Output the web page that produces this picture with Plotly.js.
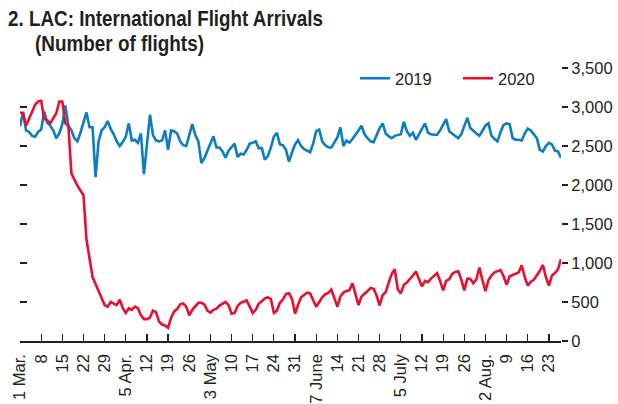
<!DOCTYPE html>
<html>
<head>
<meta charset="utf-8">
<script src="https://cdn.plot.ly/plotly-3.0.1.min.js"></script>
<style>
  html, body { margin: 0; padding: 0; background: #ffffff; }
  #chart { width: 618px; height: 404px; }
</style>
</head>
<body>
<div id="chart"></div>
<script>
// ---- Data (daily, 1 Mar to 27 Aug; 2019 aligned to the same calendar day) ----
const startDate = '2020-03-01';
const dayCount = 180;

const arrivals2019 = [
  2750,2940,2700,2680,2630,2620,2680,2710,2940,2800,
  2760,2700,2600,2660,2780,3020,2760,2700,2600,2560,
  2670,2800,2930,2740,2740,2100,2560,2700,2740,2820,
  2720,2650,2560,2500,2550,2620,2790,2570,2580,2540,
  2660,2140,2560,2900,2640,2570,2560,2570,2700,2450,
  2700,2690,2660,2560,2510,2500,2640,2780,2640,2560,
  2280,2340,2440,2540,2625,2480,2480,2430,2350,2440,
  2490,2530,2360,2400,2390,2450,2530,2540,2560,2470,
  2475,2325,2370,2480,2620,2670,2520,2510,2450,2300,
  2420,2520,2575,2500,2460,2440,2420,2530,2690,2710,
  2560,2510,2485,2480,2540,2610,2740,2500,2570,2545,
  2590,2640,2700,2760,2650,2600,2560,2550,2640,2730,
  2790,2660,2625,2600,2630,2645,2650,2810,2690,2630,
  2670,2580,2650,2730,2790,2670,2650,2645,2645,2700,
  2770,2845,2690,2660,2640,2600,2650,2760,2860,2730,
  2690,2660,2630,2700,2760,2790,2630,2590,2560,2680,
  2770,2790,2780,2600,2580,2580,2570,2660,2725,2700,
  2650,2600,2450,2430,2500,2540,2520,2440,2430,2350
];

const arrivals2020 = [
  2930,2920,2760,2850,2930,3030,3070,3080,2850,2830,
  2790,2860,2920,3070,3070,2790,2760,2150,2060,1990,
  1930,1870,1300,1050,820,730,640,560,460,440,
  500,480,460,530,420,360,420,400,440,420,
  330,280,280,300,390,370,250,210,200,170,
  300,380,410,470,480,440,330,400,440,490,
  490,470,390,365,400,415,455,480,500,460,
  350,360,450,490,510,520,440,360,400,480,
  510,545,560,540,360,390,490,535,605,612,
  540,350,465,560,590,620,610,520,440,500,
  560,600,615,660,560,440,570,620,640,650,
  740,615,460,570,600,640,680,670,580,455,
  590,625,750,860,920,660,610,720,750,790,
  840,890,790,700,770,755,800,830,870,770,
  650,770,790,860,885,895,790,650,800,795,
  740,790,940,780,640,780,840,880,895,910,
  830,720,830,845,860,880,970,820,710,760,
  785,840,900,975,820,710,840,870,920,1050
];

const tickDates = [
  '2020-03-01','2020-03-08','2020-03-15','2020-03-22','2020-03-29',
  '2020-04-05','2020-04-12','2020-04-19','2020-04-26',
  '2020-05-03','2020-05-10','2020-05-17','2020-05-24','2020-05-31',
  '2020-06-07','2020-06-14','2020-06-21','2020-06-28',
  '2020-07-05','2020-07-12','2020-07-19','2020-07-26',
  '2020-08-02','2020-08-09','2020-08-16','2020-08-23'
];
const tickLabels = [
  '1 Mar.','8','15','22','29',
  '5 Apr.','12','19','26',
  '3 May','10','17','24','31',
  '7 June','14','21','28',
  '5 July','12','19','26',
  '2 Aug.','9','16','23'
];

const titleLine1 = '2. LAC: International Flight Arrivals';
const titleLine2 = '(Number of flights)';

// build the daily date categories
const dates = [];
(function () {
  const d0 = new Date(startDate + 'T00:00:00Z');
  for (let i = 0; i < dayCount; i++) {
    const d = new Date(d0.getTime() + i * 86400000);
    dates.push(d.toISOString().slice(0, 10));
  }
})();

const INK = '#231f20';
const BLUE = '#0b7dc0';
const RED = '#e8102e';
const FAMILY = 'Liberation Sans, Arial, sans-serif';
const XTICK_FONT = { family: FAMILY, size: 16.5, color: INK };
const YTICK_FONT = { family: FAMILY, size: 16.5, color: INK };
const LEGEND_FONT = { family: FAMILY, size: 16.5, color: INK };
const TITLE_FONT = { family: FAMILY, size: 22, color: INK };

const traces = [
  { x: dates, y: arrivals2019, name: '2019', type: 'scatter', mode: 'lines',
    line: { color: BLUE, width: 2.6 }, hoverinfo: 'skip' },
  { x: dates, y: arrivals2020, name: '2020', type: 'scatter', mode: 'lines',
    line: { color: RED, width: 2.6 }, hoverinfo: 'skip' },
  { x: [], y: [], yaxis: 'y2', showlegend: false, hoverinfo: 'skip', type: 'scatter', mode: 'lines' }
];

const plotL = 20, plotR = 561, plotT = 68, plotB = 341;
const pw = plotR - plotL, ph = plotB - plotT;
function px(xp) { return (xp - plotL) / pw; }
function py(yp) { return (plotB - yp) / ph; }

const layout = {
  width: 618, height: 404,
  margin: { l: plotL, r: 618 - plotR, t: plotT, b: 404 - plotB, pad: 0 },
  paper_bgcolor: '#ffffff', plot_bgcolor: '#ffffff',
  showlegend: true,
  legend: {
    orientation: 'h', x: px(355), xanchor: 'left', y: py(61), yanchor: 'top',
    font: LEGEND_FONT, bgcolor: 'rgba(0,0,0,0)', itemwidth: 30, traceorder: 'normal',
    entrywidth: 58, entrywidthmode: 'pixels'
  },
  xaxis: {
    type: 'date', range: ['2020-03-01', '2020-08-27'],
    tickmode: 'array', tickvals: tickDates, ticktext: tickLabels,
    tickangle: -90, ticks: 'inside', ticklen: 7, tickwidth: 1.2, tickcolor: INK,
    showline: true, linecolor: INK, linewidth: 1.6,
    showgrid: false, zeroline: false, tickfont: XTICK_FONT, automargin: false,
    ticklabelstandoff: 5
  },
  yaxis: {
    side: 'right', range: [0, 3500], dtick: 500, tick0: 0, tickformat: ',d',
    ticks: 'outside', ticklen: 6, tickwidth: 1.2, tickcolor: INK,
    showline: false, showgrid: false, zeroline: false,
    tickfont: YTICK_FONT, automargin: false, fixedrange: true
  },
  yaxis2: {
    overlaying: 'y', side: 'left', range: [0, 3500], dtick: 500, tick0: 0,
    ticks: 'inside', ticklen: 7, tickwidth: 1.2, tickcolor: INK,
    showticklabels: false, showline: false, showgrid: false, zeroline: false,
    automargin: false, fixedrange: true
  },
  annotations: [
    { text: '<b>' + titleLine1 + '</b>', xref: 'paper', yref: 'paper',
      x: px(6), y: py(19), xanchor: 'left', yanchor: 'middle', showarrow: false,
      font: TITLE_FONT },
    { text: '<b>' + titleLine2 + '</b>', xref: 'paper', yref: 'paper',
      x: px(33), y: py(43.5), xanchor: 'left', yanchor: 'middle', showarrow: false,
      font: TITLE_FONT }
  ]
};

Plotly.newPlot('chart', traces, layout, { displayModeBar: false, staticPlot: true }).then(function (gd) {
  // condensed look of the original title face: squeeze the title text horizontally about its left edge
  const widths = [315, 169];
  const texts = gd.querySelectorAll('.annotation-text');
  texts.forEach(function (t, i) {
    if (!widths[i]) return;
    const bb = t.getBBox();
    if (!bb.width) return;
    const sx = widths[i] / bb.width;
    t.setAttribute('transform',
      'translate(' + bb.x + ',0) scale(' + sx + ',1) translate(' + (-bb.x) + ',0)');
  });
});
</script>
</body>
</html>
